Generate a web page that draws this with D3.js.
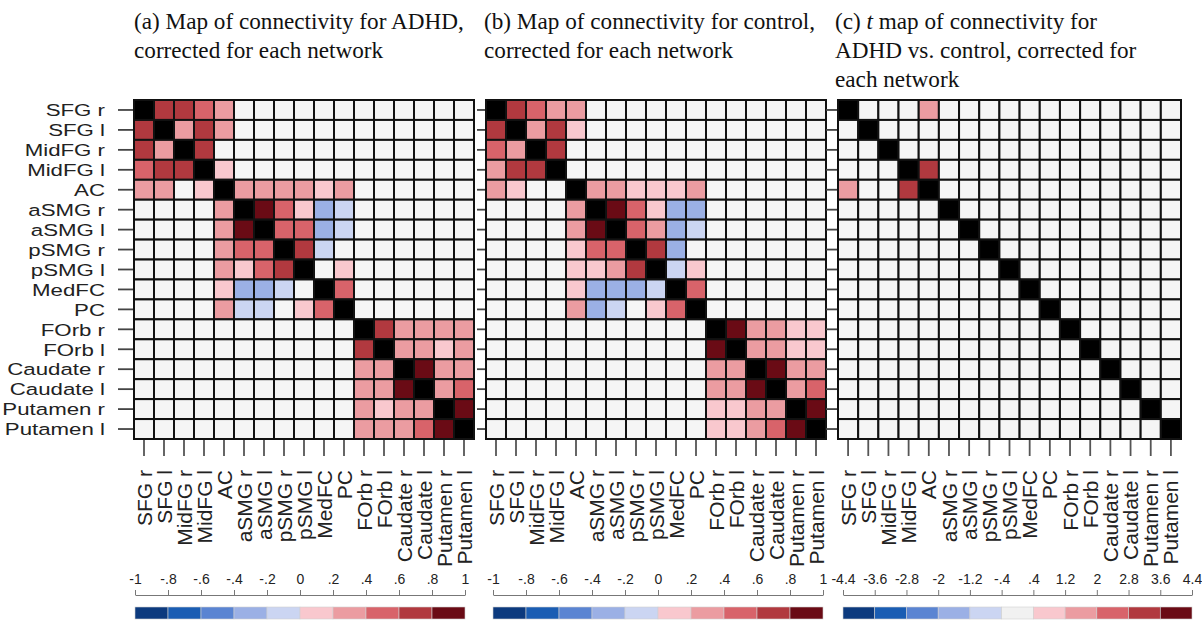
<!DOCTYPE html>
<html><head><meta charset="utf-8">
<script src="https://cdn.jsdelivr.net/npm/d3@7"></script>
<style>body{margin:0;background:#fff}svg{display:block}</style>
</head><body>
<svg id="c" width="1202" height="620"></svg>
<script>
const _ = null;
const regions = ["SFG r","SFG l","MidFG r","MidFG l","AC","aSMG r","aSMG l","pSMG r","pSMG l","MedFC","PC","FOrb r","FOrb l","Caudate r","Caudate l","Putamen r","Putamen l"];

const adhd = [
 [1,.7,.7,.5,.3,_,_,_,_,_,_,_,_,_,_,_,_],
 [.7,1,.3,.7,.3,_,_,_,_,_,_,_,_,_,_,_,_],
 [.7,.3,1,.7,_,_,_,_,_,_,_,_,_,_,_,_,_],
 [.5,.7,.7,1,.1,_,_,_,_,_,_,_,_,_,_,_,_],
 [.3,.3,_,.1,1,.3,.3,.3,.3,.1,.3,_,_,_,_,_,_],
 [_,_,_,_,.3,1,.9,.5,.1,-.3,-.1,_,_,_,_,_,_],
 [_,_,_,_,.3,.9,1,.5,.5,-.3,-.1,_,_,_,_,_,_],
 [_,_,_,_,.3,.5,.5,1,.7,-.1,_,_,_,_,_,_,_],
 [_,_,_,_,.3,.1,.5,.7,1,_,.1,_,_,_,_,_,_],
 [_,_,_,_,.1,-.3,-.3,-.1,_,1,.5,_,_,_,_,_,_],
 [_,_,_,_,.3,-.1,-.1,_,.1,.5,1,_,_,_,_,_,_],
 [_,_,_,_,_,_,_,_,_,_,_,1,.7,.3,.3,.3,.3],
 [_,_,_,_,_,_,_,_,_,_,_,.7,1,.3,.3,.1,.3],
 [_,_,_,_,_,_,_,_,_,_,_,.3,.3,1,.9,.3,.3],
 [_,_,_,_,_,_,_,_,_,_,_,.3,.3,.9,1,.3,.5],
 [_,_,_,_,_,_,_,_,_,_,_,.3,.1,.3,.3,1,.9],
 [_,_,_,_,_,_,_,_,_,_,_,.3,.3,.3,.5,.9,1]
];

const control = [
 [1,.7,.5,.3,.3,_,_,_,_,_,_,_,_,_,_,_,_],
 [.7,1,.3,.7,.1,_,_,_,_,_,_,_,_,_,_,_,_],
 [.5,.3,1,.7,_,_,_,_,_,_,_,_,_,_,_,_,_],
 [.3,.7,.7,1,_,_,_,_,_,_,_,_,_,_,_,_,_],
 [.3,.1,_,_,1,.3,.3,.1,.1,.1,.3,_,_,_,_,_,_],
 [_,_,_,_,.3,1,.9,.5,.1,-.3,-.3,_,_,_,_,_,_],
 [_,_,_,_,.3,.9,1,.5,.3,-.3,-.1,_,_,_,_,_,_],
 [_,_,_,_,.1,.5,.5,1,.7,-.3,_,_,_,_,_,_,_],
 [_,_,_,_,.1,.1,.3,.7,1,-.1,.1,_,_,_,_,_,_],
 [_,_,_,_,.1,-.3,-.3,-.3,-.1,1,.5,_,_,_,_,_,_],
 [_,_,_,_,.3,-.3,-.1,_,.1,.5,1,_,_,_,_,_,_],
 [_,_,_,_,_,_,_,_,_,_,_,1,.9,.3,.3,.1,.1],
 [_,_,_,_,_,_,_,_,_,_,_,.9,1,.3,.3,.1,.1],
 [_,_,_,_,_,_,_,_,_,_,_,.3,.3,1,.9,.3,.3],
 [_,_,_,_,_,_,_,_,_,_,_,.3,.3,.9,1,.3,.5],
 [_,_,_,_,_,_,_,_,_,_,_,.1,.1,.3,.3,1,.9],
 [_,_,_,_,_,_,_,_,_,_,_,.1,.1,.3,.5,.9,1]
];

const tmap = [
 [1,_,_,_,1.6,_,_,_,_,_,_,_,_,_,_,_,_],
 [_,1,_,_,_,_,_,_,_,_,_,_,_,_,_,_,_],
 [_,_,1,_,_,_,_,_,_,_,_,_,_,_,_,_,_],
 [_,_,_,1,3.2,_,_,_,_,_,_,_,_,_,_,_,_],
 [1.6,_,_,3.2,1,_,_,_,_,_,_,_,_,_,_,_,_],
 [_,_,_,_,_,1,_,_,_,_,_,_,_,_,_,_,_],
 [_,_,_,_,_,_,1,_,_,_,_,_,_,_,_,_,_],
 [_,_,_,_,_,_,_,1,_,_,_,_,_,_,_,_,_],
 [_,_,_,_,_,_,_,_,1,_,_,_,_,_,_,_,_],
 [_,_,_,_,_,_,_,_,_,1,_,_,_,_,_,_,_],
 [_,_,_,_,_,_,_,_,_,_,1,_,_,_,_,_,_],
 [_,_,_,_,_,_,_,_,_,_,_,1,_,_,_,_,_],
 [_,_,_,_,_,_,_,_,_,_,_,_,1,_,_,_,_],
 [_,_,_,_,_,_,_,_,_,_,_,_,_,1,_,_,_],
 [_,_,_,_,_,_,_,_,_,_,_,_,_,_,1,_,_],
 [_,_,_,_,_,_,_,_,_,_,_,_,_,_,_,1,_],
 [_,_,_,_,_,_,_,_,_,_,_,_,_,_,_,_,1]
];

const rTicks = [-1,-.8,-.6,-.4,-.2,0,.2,.4,.6,.8,1];
const rTickLabels = ["-1","-.8","-.6","-.4","-.2","0",".2",".4",".6",".8","1"];
const rColors = ["#0c3a7e","#1a5db3","#5a84d2","#9bb0e5","#cbd5f2","#f9c8ce","#eb9ca1","#d8636a","#b1393f","#6a0b15"];
const tTicks = [-4.4,-3.6,-2.8,-2,-1.2,-.4,.4,1.2,2,2.8,3.6,4.4];
const tTickLabels = ["-4.4","-3.6","-2.8","-2","-1.2","-.4",".4","1.2","2","2.8","3.6","4.4"];
const tColors = ["#0c3a7e","#1a5db3","#5a84d2","#9bb0e5","#cbd5f2","#f1f1f1","#f9c8ce","#eb9ca1","#d8636a","#b1393f","#6a0b15"];

const titles = [
 [["(a) Map of connectivity for ADHD,"],["corrected for each network"]],
 [["(b) Map of connectivity for control,"],["corrected for each network"]],
 [["(c) ","t"," map of connectivity for"],["ADHD vs. control, corrected for"],["each network"]]
];

const svg = d3.select("#c");
const SANS = "'Liberation Sans', Arial, sans-serif";
const SERIF = "'Liberation Serif', 'Times New Roman', serif";

const panels = [
 {data: adhd, x0:134, w:340, tx:134, ticks:rTicks, labels:rTickLabels, colors:rColors, cb:[135,465], ylab:true, ytick:15},
 {data: control, x0:486, w:340, tx:484, ticks:rTicks, labels:rTickLabels, colors:rColors, cb:[493,823], ylab:false, ytick:8},
 {data: tmap, x0:838, w:343, tx:835, ticks:tTicks, labels:tTickLabels, colors:tColors, cb:[843,1192], ylab:false, ytick:11}
];
const y0 = 100, h = 339;
const ySX = 1.28;

panels.forEach((p, pi) => {
  const g = svg.append("g");
  // title
  const tt = g.append("text").attr("font-family", SERIF).attr("font-size", 23.2).attr("fill", "#111");
  titles[pi].forEach((line, li) => {
    line.forEach((seg, si) => {
      const ts = tt.append("tspan").text(seg);
      if (si === 0) ts.attr("x", p.tx).attr("y", 29 + li * 29.2);
      if (pi === 2 && li === 0 && si === 1) ts.attr("font-style", "italic");
    });
  });

  const x = d3.scaleBand().domain(d3.range(17)).range([p.x0, p.x0 + p.w]);
  const y = d3.scaleBand().domain(d3.range(17)).range([y0, y0 + h]);
  const color = d3.scaleThreshold().domain(p.ticks.slice(1, -1)).range(p.colors);

  const cells = [];
  p.data.forEach((row, i) => row.forEach((v, j) => cells.push({i, j, v})));
  g.append("g").selectAll("rect").data(cells).join("rect")
    .attr("x", d => x(d.j)).attr("y", d => y(d.i))
    .attr("width", x.bandwidth()).attr("height", y.bandwidth())
    .attr("fill", d => d.i === d.j ? "#000" : (d.v === null ? "#f5f5f5" : color(d.v)))
    .attr("stroke", "#111").attr("stroke-width", 2);

  // y axis ticks
  const ya = d3.axisLeft(y).tickSize(p.ytick).tickFormat(i => p.ylab ? regions[i] : "");
  const yg = g.append("g").attr("transform", `translate(${p.x0 - 1},0)`).call(ya);
  yg.select(".domain").remove();
  yg.selectAll("line").attr("stroke", "#444").attr("stroke-width", 1.8);
  yg.selectAll("text").attr("font-family", SANS).attr("font-size", 17.4).attr("fill", "#222")
    .attr("x", -(133 - 105) / ySX).attr("dy", "0.36em").attr("transform", `scale(${ySX},1)`);

  // x axis ticks
  const xa = d3.axisBottom(x).tickSize(16).tickFormat(i => regions[i]);
  const xg = g.append("g").attr("transform", `translate(0,${y0 + h + 1})`).call(xa);
  xg.select(".domain").remove();
  xg.selectAll("line").attr("stroke", "#555").attr("stroke-width", 1.8);
  xg.selectAll("text").attr("font-family", SANS).attr("font-size", 21).attr("fill", "#222")
    .attr("text-anchor", "end").attr("transform", "rotate(-90)")
    .attr("x", -(470 - (y0 + h + 1))).attr("y", 0).attr("dx", 0).attr("dy", "0.36em");

  // colorbar
  const cx = d3.scaleLinear().domain([p.ticks[0], p.ticks[p.ticks.length - 1]]).range(p.cb);
  const ca = d3.axisTop(cx).tickValues(p.ticks).tickSize(5).tickSizeOuter(0).tickFormat((d, k) => p.labels[k]);
  const cg = g.append("g").attr("transform", "translate(0,595)").call(ca);
  cg.select(".domain").attr("stroke", "#777").attr("stroke-width", 1);
  cg.selectAll("line").attr("stroke", "#777");
  cg.selectAll("text").attr("font-family", SANS).attr("font-size", 14).attr("fill", "#222").attr("dy", "-0.25em");
  const bins = d3.range(p.colors.length).map(k => ({a: p.ticks[k], b: p.ticks[k + 1], c: p.colors[k]}));
  g.append("g").selectAll("rect").data(bins).join("rect")
    .attr("x", d => cx(d.a)).attr("width", d => cx(d.b) - cx(d.a))
    .attr("y", 607).attr("height", 12)
    .attr("fill", d => d.c).attr("stroke", "#cfcfcf").attr("stroke-width", 0.6);
});
</script>
</body></html>
